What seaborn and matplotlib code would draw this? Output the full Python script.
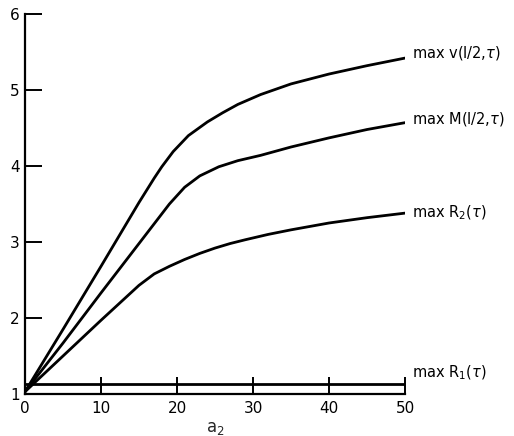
import matplotlib
matplotlib.use("Agg")
import matplotlib.pyplot as plt
import seaborn as sns
import pandas as pd

sns.set_theme(style="ticks")
plt.rcParams['font.family'] = ['DejaVu Sans']
plt.rcParams['mathtext.fontset'] = 'dejavusans'

# data
a_v = [0, 5, 10, 15, 17, 18, 19.5, 21.5, 24, 26, 28, 31, 35, 40, 45, 50]
max_v = [1.03, 1.85, 2.68, 3.52, 3.84, 3.99, 4.19, 4.40, 4.58, 4.70, 4.81, 4.94, 5.08, 5.21, 5.32, 5.42]

a_m = [0, 5, 10, 15, 17, 19, 21, 23, 25.5, 28, 31, 35, 40, 45, 50]
max_m = [1.03, 1.67, 2.33, 2.98, 3.24, 3.50, 3.72, 3.87, 3.99, 4.07, 4.14, 4.25, 4.37, 4.48, 4.57]

a_r2 = [0, 5, 10, 15, 17, 19, 21, 23, 25, 27, 29, 32, 35, 40, 45, 50]
max_r2 = [1.03, 1.50, 1.97, 2.43, 2.58, 2.68, 2.77, 2.85, 2.92, 2.98, 3.03, 3.10, 3.16, 3.25, 3.32, 3.38]

a_r1 = [0, 50]
max_r1 = [1.13, 1.13]

labels = [r"max v(l/2,$\tau$)", r"max M(l/2,$\tau$)", r"max R$_2$($\tau$)", r"max R$_1$($\tau$)"]
label_offsets = [4, 3, 0, 8]  # pixel nudges (positioning only)

x_ticks = [0, 10, 20, 30, 40, 50]
y_ticks = [1, 2, 3, 4, 5, 6]

series = [(a_v, max_v), (a_m, max_m), (a_r2, max_r2), (a_r1, max_r1)]
frames = []
for i, (xs, ys) in enumerate(series):
    frames.append(pd.DataFrame({"a2": xs, "val": ys, "curve": labels[i]}))
df = pd.concat(frames, ignore_index=True)

fig = plt.figure(figsize=(5.14, 4.36), dpi=100)
ax = fig.add_axes([25 / 514, 1 - 394 / 436, 380 / 514, 380 / 436])

for lab in labels:
    sub = df[df["curve"] == lab]
    sns.lineplot(data=sub, x="a2", y="val", ax=ax, color="black", lw=2.0,
                 estimator=None, sort=False, legend=False)
for ln in ax.lines:
    ln.set_solid_joinstyle("round")
    ln.set_solid_capstyle("round")

for lab, off, (xs, ys) in zip(labels, label_offsets, series):
    ax.annotate(lab, xy=(xs[-1], ys[-1]), xytext=(5, off), textcoords="offset points",
                ha="left", va="center", fontsize=10.5, color="black",
                annotation_clip=False)

ax.set_xlim(0, 50)
ax.set_ylim(1, 6)
ax.set_xticks(x_ticks)
ax.set_yticks(y_ticks)
ax.set_xticklabels([str(t) for t in x_ticks])
ax.set_yticklabels([str(t) for t in y_ticks])
ax.tick_params(direction="in", length=12, width=1.4, colors="black",
               labelsize=11, pad=4)
ax.tick_params(axis="x", pad=5)
sns.despine(ax=ax)
for s in ["left", "bottom"]:
    ax.spines[s].set_linewidth(1.6)
    ax.spines[s].set_color("black")
ax.set_xlabel(r"a$_2$", fontsize=12, labelpad=2)
ax.set_ylabel("")

fig.savefig("out.png", dpi=100)
